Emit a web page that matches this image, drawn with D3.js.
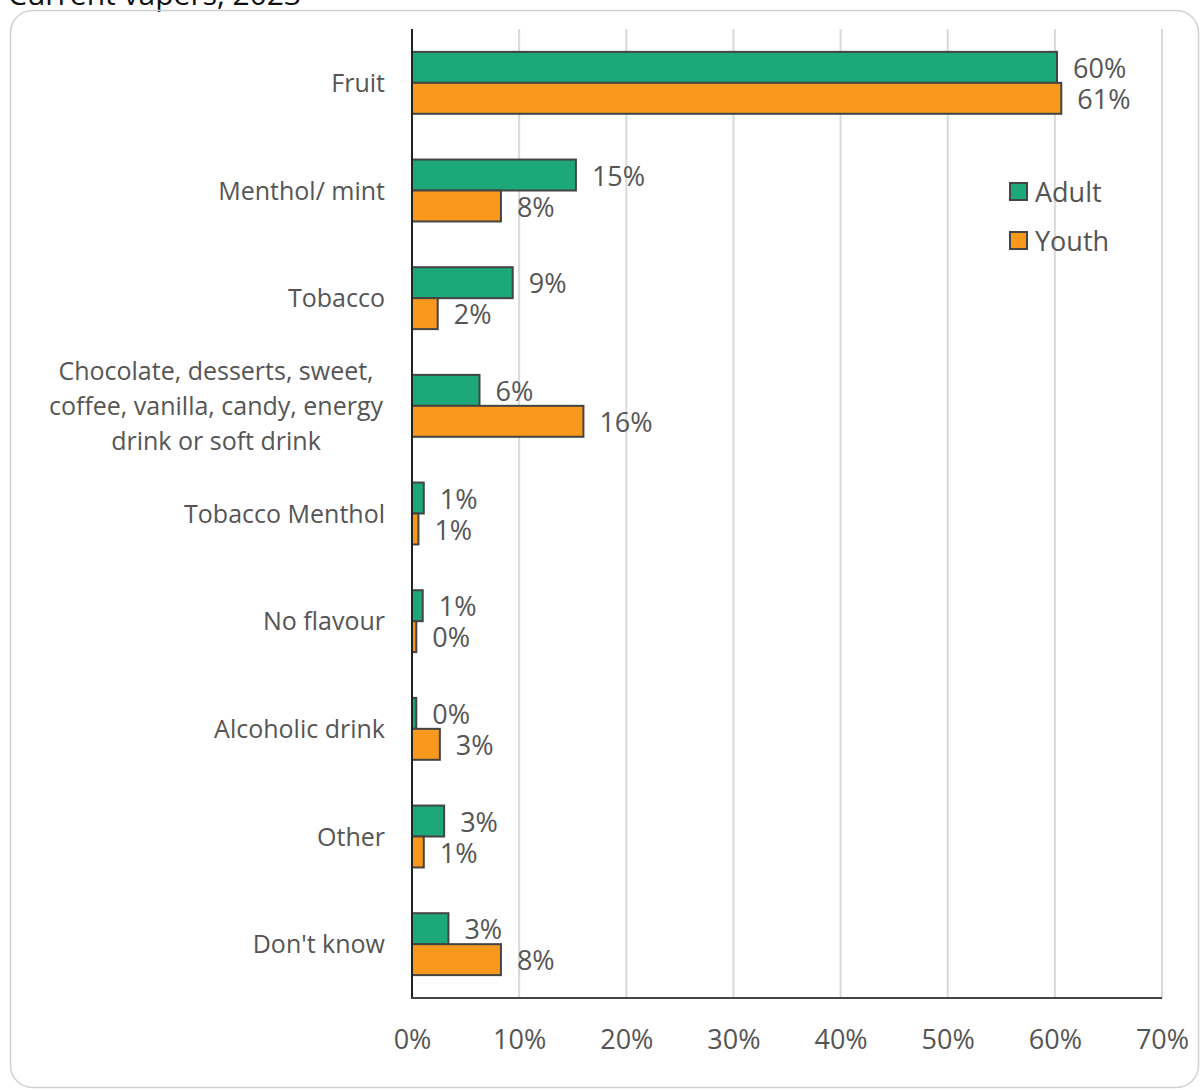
<!DOCTYPE html>
<html>
<head>
<meta charset="utf-8">
<script src="https://cdn.jsdelivr.net/npm/d3@7"></script>
<style>
  html, body { margin: 0; padding: 0; background: #fff; }
  svg { display: block; }
  text { font-family: "Open Sans", "Noto Sans", sans-serif; }
</style>
</head>
<body>
<svg id="chart" width="1200" height="1090"></svg>
<script>
// Preferred e-cigarette flavour, current vapers
const categories = [
  "Fruit",
  "Menthol/ mint",
  "Tobacco",
  "Chocolate, desserts, sweet,|coffee, vanilla, candy, energy|drink or soft drink",
  "Tobacco Menthol",
  "No flavour",
  "Alcoholic drink",
  "Other",
  "Don't know"
];
const adultValues = [60.2, 15.3, 9.4, 6.3, 1.1, 1.0, 0.4, 3.0, 3.4];
const youthValues = [60.6, 8.3, 2.4, 16.0, 0.6, 0.4, 2.6, 1.1, 8.3];
const seriesNames = ["Adult", "Youth"];
const seriesColors = ["#1ca878", "#f8991e"];
const xTicks = [0, 10, 20, 30, 40, 50, 60, 70];

const svg = d3.select("#chart");
const textColor = "#555555";

// Title (partly above the frame)
svg.append("text")
  .attr("x", 8).attr("y", 5)
  .attr("font-size", 30).attr("fill", "#111")
  .text("Current vapers, 2023");

// Rounded card frame
svg.append("rect")
  .attr("x", 10.5).attr("y", 10.5)
  .attr("width", 1188).attr("height", 1077)
  .attr("rx", 22).attr("ry", 22)
  .attr("fill", "none").attr("stroke", "#d0d0d0").attr("stroke-width", 1.5);

const plot = { left: 412, right: 1162, top: 29, bottom: 998 };

const x = d3.scaleLinear().domain([0, 70]).range([plot.left, plot.right]);
const y = d3.scaleBand().domain(categories).range([plot.top, plot.bottom]).paddingInner(0.425).paddingOuter(0.2125);
const ySub = d3.scaleBand().domain(seriesNames).range([0, y.bandwidth()]);

// Vertical gridlines
svg.append("g").selectAll("line")
  .data(xTicks.filter(d => d > 0))
  .join("line")
  .attr("x1", d => x(d)).attr("x2", d => x(d))
  .attr("y1", plot.top).attr("y2", plot.bottom)
  .attr("stroke", "#d9d9d9").attr("stroke-width", 2);

// X axis tick labels
const xAxis = d3.axisBottom(x).tickValues(xTicks).tickFormat(d => d + "%").tickSize(0).tickPadding(32);
const gx = svg.append("g").attr("transform", `translate(0,${plot.bottom})`).call(xAxis);
gx.select(".domain").remove();
gx.selectAll("text").attr("font-size", 27).attr("fill", textColor)
  .attr("font-family", "\"Open Sans\", sans-serif");

// Bars
const series = [adultValues, youthValues];
const rows = [];
categories.forEach((c, i) => {
  seriesNames.forEach((s, j) => rows.push({ cat: c, series: s, value: series[j][i], color: seriesColors[j] }));
});

svg.append("g").selectAll("rect")
  .data(rows)
  .join("rect")
  .attr("x", x(0))
  .attr("y", d => y(d.cat) + ySub(d.series))
  .attr("width", d => x(d.value) - x(0))
  .attr("height", ySub.bandwidth())
  .attr("fill", d => d.color)
  .attr("stroke", "#444").attr("stroke-width", 2);

// Value labels
svg.append("g").selectAll("text")
  .data(rows)
  .join("text")
  .attr("x", d => x(d.value) + 16)
  .attr("y", d => y(d.cat) + ySub(d.series) + ySub.bandwidth() / 2 + 1)
  .attr("dy", "0.36em")
  .attr("font-size", 27).attr("fill", textColor)
  .text(d => d3.format(".0f")(d.value) + "%");

// Category labels (multi-line labels centred as a block, block right-aligned)
const catG = svg.append("g");
categories.forEach(c => {
  const lines = c.split("|");
  const cy = y(c) + y.bandwidth() / 2;
  const lineH = 35;
  const t = catG.append("text")
    .attr("font-size", 25).attr("fill", textColor);
  if (lines.length === 1) {
    t.attr("x", 385).attr("y", cy).attr("dy", "0.36em").attr("text-anchor", "end").text(c);
  } else {
    t.attr("text-anchor", "middle");
    lines.forEach((ln, k) => {
      t.append("tspan")
        .attr("x", 216)
        .attr("y", cy + (k - (lines.length - 1) / 2) * lineH)
        .attr("dy", "0.36em")
        .text(ln);
    });
  }
});

// Axis lines
svg.append("line")
  .attr("x1", plot.left).attr("x2", plot.left)
  .attr("y1", plot.top).attr("y2", plot.bottom)
  .attr("stroke", "#222").attr("stroke-width", 2);
svg.append("line")
  .attr("x1", plot.left - 1).attr("x2", plot.right)
  .attr("y1", plot.bottom).attr("y2", plot.bottom)
  .attr("stroke", "#444").attr("stroke-width", 2);

// Legend
const legend = svg.append("g").selectAll("g")
  .data(seriesNames)
  .join("g")
  .attr("transform", (d, i) => `translate(1010,${183 + i * 49})`);
legend.append("rect")
  .attr("width", 17).attr("height", 17)
  .attr("fill", (d, i) => seriesColors[i])
  .attr("stroke", "#444").attr("stroke-width", 2);
legend.append("text")
  .attr("x", 25).attr("y", 9).attr("dy", "0.36em")
  .attr("font-size", 27).attr("fill", textColor)
  .text(d => d);
</script>
</body>
</html>
